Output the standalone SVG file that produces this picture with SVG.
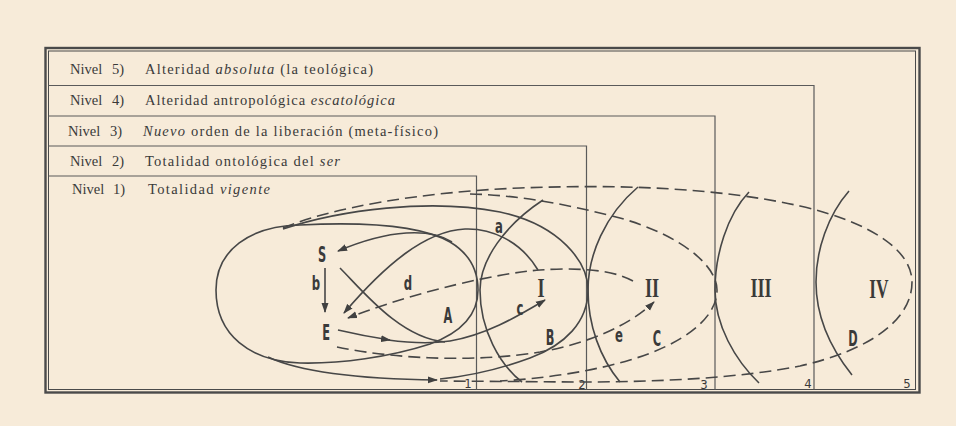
<svg xmlns="http://www.w3.org/2000/svg" width="956" height="426" viewBox="0 0 956 426">
<style>
.bg{fill:#F7EBD9}
.frame{fill:none;stroke:#4a4a4a}
.box{fill:none;stroke:#5a5a5a;stroke-width:1.2}
.cv{fill:none;stroke:#474747;stroke-width:1.6}
.ds{fill:none;stroke:#474747;stroke-width:1.6;stroke-dasharray:12 6}
.row{font-family:"Liberation Serif","Times New Roman",serif;font-size:14.5px;fill:#3a3a3a}
.it{font-style:italic}
.lab{font-family:"DejaVu Sans Condensed","DejaVu Sans",sans-serif;font-weight:bold;font-size:21px;fill:#3a3a3a;text-anchor:middle}
.low{font-family:"DejaVu Sans Condensed","DejaVu Sans",sans-serif;font-weight:bold;font-size:20px;fill:#3a3a3a;text-anchor:middle}
.rom{font-family:"Liberation Serif","DejaVu Serif",serif;font-weight:bold;font-size:28px;fill:#3a3a3a;text-anchor:middle}
.num{font-family:"DejaVu Sans Condensed","DejaVu Sans",sans-serif;font-size:13px;fill:#3a3a3a;text-anchor:middle}
</style>
<defs>
<marker id="ah" viewBox="0 0 10 8" refX="9" refY="4" markerWidth="10" markerHeight="8" markerUnits="userSpaceOnUse" orient="auto">
<path d="M0,0.5 L10,4 L0,7.5 z" fill="#404040"/>
</marker>
</defs>
<rect class="bg" x="0" y="0" width="956" height="426"/>

<g id="frame">
<rect class="frame" x="45.5" y="48" width="874" height="344.5" stroke-width="2.4"/>
<rect class="frame" x="48.5" y="51" width="867" height="338.5" stroke-width="1"/>
</g>

<g id="level-5">
<text class="row" x="70" y="74">Nivel</text>
<text class="row" x="112" y="74">5)</text>
<text class="row" x="145" y="74" textLength="228">Alteridad <tspan class="it">absoluta</tspan> (la teológica)</text>
<text class="num" x="907" y="388">5</text>
</g>
<g id="level-4">
<path class="box" d="M48.5,85.5 H814 V389.5"/>
<text class="row" x="70" y="105">Nivel</text>
<text class="row" x="112" y="105">4)</text>
<text class="row" x="145" y="105" textLength="250">Alteridad antropológica <tspan class="it">escatológica</tspan></text>
<text class="num" x="808" y="388">4</text>
</g>
<g id="level-3">
<path class="box" d="M48.5,116 H715 V389.5"/>
<text class="row" x="68" y="136">Nivel</text>
<text class="row" x="110" y="136">3)</text>
<text class="row" x="143" y="136" textLength="295"><tspan class="it">Nuevo</tspan> orden de la liberación (meta-físico)</text>
<text class="num" x="704" y="389">3</text>
</g>
<g id="level-2">
<path class="box" d="M48.5,146 H586.5 V389.5"/>
<text class="row" x="70" y="166">Nivel</text>
<text class="row" x="112" y="166">2)</text>
<text class="row" x="145" y="166" textLength="195">Totalidad ontológica del <tspan class="it">ser</tspan></text>
<text class="num" x="582" y="389">2</text>
</g>
<g id="level-1">
<path class="box" d="M48.5,176 H476.5 V389.5"/>
<text class="row" x="72" y="194">Nivel</text>
<text class="row" x="113" y="194">1)</text>
<text class="row" x="148" y="194" textLength="122">Totalidad <tspan class="it">vigente</tspan></text>
<text class="num" x="468" y="388">1</text>
</g>

<g id="connectors">
<path class="cv" d="M216,290 C216,250 250,226 300,225 C360,222 420,225 450,242 C470,254 478,272 478,290 C478,315 460,333 430,344 C390,357 340,364 300,363 C250,361 216,335 216,290 Z"/>
<path class="cv" d="M283,229 C340,210 430,198 500,212 C560,225 588,262 588,290 C588,322 565,345 530,358 C500,369 470,376 440,379"/>
<path class="ds" d="M283,228 C330,208 420,192 520,188 C620,184 720,188 800,206 C870,222 912,250 912,282 C912,320 870,350 800,366 C740,378 660,382 580,382 L440,381"/>
<path class="cv" d="M268,357 C300,372 360,379 437,380" marker-end="url(#ah)"/>
<path class="ds" d="M470,194 C520,195 570,205 620,218 C680,235 717,265 717,290 C717,320 680,345 630,360 C590,372 540,379 500,381"/>
<path class="cv" d="M543,200 C505,225 480,260 480,290 C480,330 500,365 522,382"/>
<path class="cv" d="M638,187 C605,215 588,255 588,290 C588,325 600,358 620,382"/>
<path class="cv" d="M749,192 C727,215 715,255 715,290 C715,325 735,360 759,383"/>
<path class="cv" d="M849,191 C828,215 816,250 816,282 C816,318 832,350 852,375"/>
<path class="cv" d="M340,268 C362,290 400,338 445,342"/>
<path class="cv" d="M452,242 C430,228 390,229 338,251" marker-end="url(#ah)"/>
<path class="cv" d="M538,270 C520,240 490,228 465,229 C425,231 385,265 344,313" marker-end="url(#ah)"/>
<path class="cv" d="M325,268 L325,312" marker-end="url(#ah)"/>
<path class="cv" d="M338,330 C355,334 370,337 390,340" marker-end="url(#ah)"/>
<path class="cv" d="M388,340 C410,343 430,344 450,341 C485,335 515,318 545,300" marker-end="url(#ah)"/>
<path class="ds" d="M633,281 C610,268 570,268 540,270 C500,273 420,290 348,318" marker-end="url(#ah)"/>
<path class="ds" d="M337,347 C400,360 480,362 540,352 C590,343 630,325 654,302" marker-end="url(#ah)"/>
</g>

<g id="labels">
<text class="lab" transform="translate(322,262) scale(0.6,1)">S</text>
<text class="low" transform="translate(316,290) scale(0.65,1)">b</text>
<text class="lab" transform="translate(326,340) scale(0.6,1)">E</text>
<text class="low" transform="translate(408,290) scale(0.65,1)">d</text>
<text class="lab" transform="translate(448,323) scale(0.6,1)">A</text>
<text class="low" transform="translate(499,233) scale(0.65,1)">a</text>
<text class="low" transform="translate(520,315) scale(0.65,1)">c</text>
<text class="lab" transform="translate(550,345) scale(0.6,1)">B</text>
<text class="low" transform="translate(619,342) scale(0.65,1)">e</text>
<text class="lab" transform="translate(657,346) scale(0.6,1)">C</text>
<text class="lab" transform="translate(853,346) scale(0.6,1)">D</text>
<text class="rom" transform="translate(541,297) scale(0.65,1)">I</text>
<text class="rom" transform="translate(652,297) scale(0.65,1)">II</text>
<text class="rom" transform="translate(761,297) scale(0.65,1)">III</text>
<text class="rom" transform="translate(879,298) scale(0.62,1)">IV</text>
</g>
</svg>
